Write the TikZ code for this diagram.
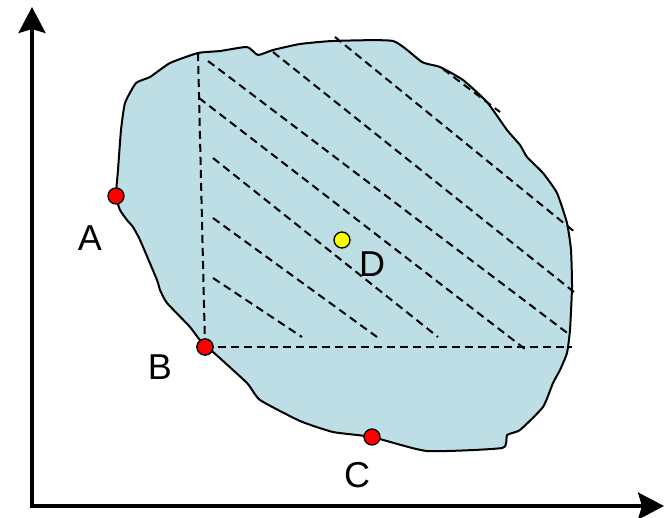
\documentclass[tikz,border=0pt]{standalone}
\usepackage{fontspec}
\setmainfont{Liberation Sans}
\usetikzlibrary{arrows.meta}
\definecolor{blobfill}{RGB}{188,222,228}
\definecolor{ptred}{RGB}{255,0,0}
\definecolor{ptyellow}{RGB}{255,255,0}
\begin{document}
\begin{tikzpicture}[x=1pt,y=-1pt,
  axis/.style={line width=3.2pt, line join=miter, {Stealth[length=26pt,width=27pt,inset=4pt]}-{Stealth[length=26pt,width=27pt,inset=4pt]}},
  hatch/.style={line width=2pt, dash pattern=on 8pt off 5pt},
  outline/.style={draw=black, line width=2pt, fill=blobfill, line join=round},
  dot/.style={circle, draw=black, line width=1.3pt, minimum size=16pt, inner sep=0pt},
  lbl/.style={font=\fontsize{36}{40}\selectfont, inner sep=0pt}]
\useasboundingbox (0,0) rectangle (664,517);
% axes
\coordinate (ytop) at (32,7);
\coordinate (orig) at (32,506);
\coordinate (xend) at (664,506);
\draw[axis] (ytop) -- (orig) -- (xend);
% blob
\path[outline] plot[smooth cycle, tension=0.3] coordinates {
 (136,83) (150,77) (170,63) (198,53) (220,51) (247,47) (258,55) (273,50)
 (300,44) (333,41) (393,41) (422,62) (440,67) (463,80) (487,102) (507,130)
 (520,145) (527,157) (543,173) (557,193) (567,223) (571,250) (572,287)
 (570,330) (567,353) (560,370) (553,383) (543,407) (520,430) (507,435)
 (502,448) (427,451) (372,437) (333,432) (300,421) (260,400) (247,383)
 (213,352) (205,347) (190,327) (167,303) (160,290) (157,280) (140,240)
 (133,227) (127,220) (120,210) (116,196) (118,170) (121,130) (125,103)};
% hatch corner points
\coordinate (vtop) at (198,53);
\coordinate (hend) at (572,347);
% diagonal hatch lines
\draw[hatch] (213,278) -- (302,337);
\draw[hatch] (213,218) -- (377,337);
\draw[hatch] (213,158) -- (438,337);
\draw[hatch] (199,98) -- (525,349);
\draw[hatch] (208,61) -- (570,335);
\draw[hatch] (273,52) -- (574,292);
\draw[hatch] (335,37) -- (576,233);
\draw[hatch] (443,69) -- (500,112);
% points
\node[dot, fill=ptred] (A) at (116,196) {};
\node[dot, fill=ptred] (B) at (205,347) {};
\node[dot, fill=ptred] (C) at (372,437) {};
\node[dot, fill=ptyellow] (D) at (342,240) {};
% vertical and horizontal dashed lines through B
\draw[hatch] (vtop) -- (B.center);
\draw[hatch] (B.center) -- (hend);
\node[dot, fill=ptred] at (B) {};
% labels
\node[lbl] (lA) at (90,238) {A};
\node[lbl] (lB) at (160,367) {B};
\node[lbl] (lC) at (357,475) {C};
\node[lbl] (lD) at (372,264) {D};
\end{tikzpicture}
\end{document}
